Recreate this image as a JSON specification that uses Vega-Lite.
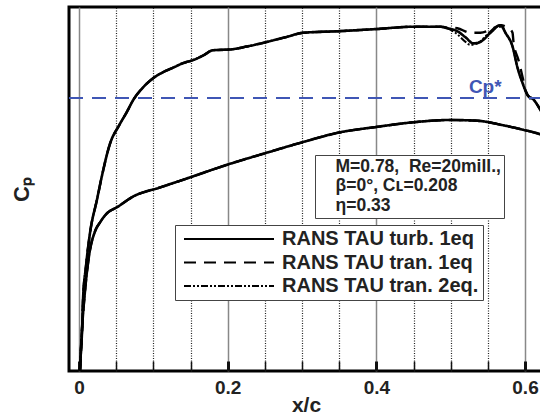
{
  "$schema": "https://vega.github.io/schema/vega-lite/v6.json",
  "width": 474,
  "height": 364,
  "autosize": {"type": "none"},
  "padding": {"left": 69, "top": 7, "right": -3, "bottom": 45},
  "background": "white",
  "config": {"view": {"stroke": "black", "strokeWidth": 3}, "font": "Liberation Sans"},
  "datasets": {
    "turb": [
      {"s":"u","x":0.0013,"cp":1.2},{"s":"u","x":0.0027,"cp":1.06},{"s":"u","x":0.004,"cp":0.95},{"s":"u","x":0.0054,"cp":0.73},{"s":"u","x":0.0094,"cp":0.51},{"s":"u","x":0.0148,"cp":0.29},{"s":"u","x":0.0242,"cp":0.07},{"s":"u","x":0.031,"cp":-0.09},{"s":"u","x":0.0418,"cp":-0.3},{"s":"u","x":0.054,"cp":-0.42},{"s":"u","x":0.0646,"cp":-0.51},{"s":"u","x":0.0727,"cp":-0.585},{"s":"u","x":0.0862,"cp":-0.67},{"s":"u","x":0.0997,"cp":-0.73},{"s":"u","x":0.113,"cp":-0.77},{"s":"u","x":0.1266,"cp":-0.8},{"s":"u","x":0.14,"cp":-0.83},{"s":"u","x":0.1535,"cp":-0.85},{"s":"u","x":0.167,"cp":-0.88},{"s":"u","x":0.1804,"cp":-0.915},{"s":"u","x":0.2034,"cp":-0.92},{"s":"u","x":0.2263,"cp":-0.94},{"s":"u","x":0.2532,"cp":-0.97},{"s":"u","x":0.2774,"cp":-1.0},{"s":"u","x":0.3017,"cp":-1.03},{"s":"u","x":0.3475,"cp":-1.04},{"s":"u","x":0.4013,"cp":-1.055},{"s":"u","x":0.4498,"cp":-1.07},{"s":"u","x":0.486,"cp":-1.07},{"s":"u","x":0.4956,"cp":-1.06},{"s":"u","x":0.5091,"cp":-1.04},{"s":"u","x":0.52,"cp":-1.0},{"s":"u","x":0.5306,"cp":-0.96},{"s":"u","x":0.54,"cp":-0.97},{"s":"u","x":0.5535,"cp":-1.03},{"s":"u","x":0.567,"cp":-1.08},{"s":"u","x":0.5737,"cp":-1.03},{"s":"u","x":0.5832,"cp":-0.94},{"s":"u","x":0.5899,"cp":-0.8},{"s":"u","x":0.5966,"cp":-0.7},{"s":"u","x":0.6034,"cp":-0.62},{"s":"u","x":0.6114,"cp":-0.59},{"s":"u","x":0.6209,"cp":-0.52},{"s":"u","x":0.6316,"cp":-0.42},
      {"s":"l","x":0.0013,"cp":1.2},{"s":"l","x":0.004,"cp":0.93},{"s":"l","x":0.0081,"cp":0.67},{"s":"l","x":0.0135,"cp":0.44},{"s":"l","x":0.0215,"cp":0.28},{"s":"l","x":0.0283,"cp":0.22},{"s":"l","x":0.0377,"cp":0.16},{"s":"l","x":0.0512,"cp":0.12},{"s":"l","x":0.0727,"cp":0.05},{"s":"l","x":0.109,"cp":-0.01},{"s":"l","x":0.1455,"cp":-0.07},{"s":"l","x":0.1993,"cp":-0.16},{"s":"l","x":0.2532,"cp":-0.24},{"s":"l","x":0.3017,"cp":-0.31},{"s":"l","x":0.3475,"cp":-0.37},{"s":"l","x":0.4013,"cp":-0.41},{"s":"l","x":0.4498,"cp":-0.44},{"s":"l","x":0.4997,"cp":-0.455},{"s":"l","x":0.536,"cp":-0.45},{"s":"l","x":0.571,"cp":-0.42},{"s":"l","x":0.598,"cp":-0.39},{"s":"l","x":0.621,"cp":-0.36},{"s":"l","x":0.6316,"cp":-0.34}
    ],
    "tran1": [
      {"s":"u","x":0.0013,"cp":1.2},{"s":"u","x":0.0027,"cp":1.06},{"s":"u","x":0.004,"cp":0.95},{"s":"u","x":0.0054,"cp":0.73},{"s":"u","x":0.0094,"cp":0.51},{"s":"u","x":0.0148,"cp":0.29},{"s":"u","x":0.0242,"cp":0.07},{"s":"u","x":0.031,"cp":-0.09},{"s":"u","x":0.0418,"cp":-0.3},{"s":"u","x":0.054,"cp":-0.42},{"s":"u","x":0.0646,"cp":-0.51},{"s":"u","x":0.0727,"cp":-0.585},{"s":"u","x":0.0862,"cp":-0.67},{"s":"u","x":0.0997,"cp":-0.73},{"s":"u","x":0.113,"cp":-0.77},{"s":"u","x":0.1266,"cp":-0.8},{"s":"u","x":0.14,"cp":-0.83},{"s":"u","x":0.1535,"cp":-0.85},{"s":"u","x":0.167,"cp":-0.88},{"s":"u","x":0.1804,"cp":-0.915},{"s":"u","x":0.2034,"cp":-0.92},{"s":"u","x":0.2263,"cp":-0.94},{"s":"u","x":0.2532,"cp":-0.97},{"s":"u","x":0.2774,"cp":-1.0},{"s":"u","x":0.3017,"cp":-1.03},{"s":"u","x":0.3475,"cp":-1.04},{"s":"u","x":0.4013,"cp":-1.055},{"s":"u","x":0.4498,"cp":-1.07},{"s":"u","x":0.486,"cp":-1.07},{"s":"u","x":0.4956,"cp":-1.065},{"s":"u","x":0.509,"cp":-1.06},{"s":"u","x":0.5266,"cp":-1.03},{"s":"u","x":0.54,"cp":-1.03},{"s":"u","x":0.5535,"cp":-1.05},{"s":"u","x":0.567,"cp":-1.08},{"s":"u","x":0.5778,"cp":-1.06},{"s":"u","x":0.5832,"cp":-1.03},{"s":"u","x":0.5845,"cp":-0.97},{"s":"u","x":0.5912,"cp":-0.85},{"s":"u","x":0.5966,"cp":-0.74},{"s":"u","x":0.6007,"cp":-0.65},{"s":"u","x":0.6074,"cp":-0.595},{"s":"u","x":0.6114,"cp":-0.585},{"s":"u","x":0.6209,"cp":-0.52},{"s":"u","x":0.6316,"cp":-0.42},
      {"s":"l","x":0.0013,"cp":1.2},{"s":"l","x":0.004,"cp":0.93},{"s":"l","x":0.0081,"cp":0.67},{"s":"l","x":0.0135,"cp":0.44},{"s":"l","x":0.0215,"cp":0.28},{"s":"l","x":0.0283,"cp":0.22},{"s":"l","x":0.0377,"cp":0.16},{"s":"l","x":0.0512,"cp":0.12},{"s":"l","x":0.0727,"cp":0.05},{"s":"l","x":0.109,"cp":-0.01},{"s":"l","x":0.1455,"cp":-0.07},{"s":"l","x":0.1993,"cp":-0.16},{"s":"l","x":0.2532,"cp":-0.24},{"s":"l","x":0.3017,"cp":-0.31},{"s":"l","x":0.3475,"cp":-0.37},{"s":"l","x":0.4013,"cp":-0.41},{"s":"l","x":0.4498,"cp":-0.44},{"s":"l","x":0.4997,"cp":-0.455},{"s":"l","x":0.536,"cp":-0.45},{"s":"l","x":0.571,"cp":-0.42},{"s":"l","x":0.598,"cp":-0.39},{"s":"l","x":0.621,"cp":-0.36},{"s":"l","x":0.6316,"cp":-0.34}
    ],
    "tran2": [
      {"s":"u","x":0.0013,"cp":1.2},{"s":"u","x":0.0027,"cp":1.06},{"s":"u","x":0.004,"cp":0.95},{"s":"u","x":0.0054,"cp":0.73},{"s":"u","x":0.0094,"cp":0.51},{"s":"u","x":0.0148,"cp":0.29},{"s":"u","x":0.0242,"cp":0.07},{"s":"u","x":0.031,"cp":-0.09},{"s":"u","x":0.0418,"cp":-0.3},{"s":"u","x":0.054,"cp":-0.42},{"s":"u","x":0.0646,"cp":-0.51},{"s":"u","x":0.0727,"cp":-0.585},{"s":"u","x":0.0862,"cp":-0.67},{"s":"u","x":0.0997,"cp":-0.73},{"s":"u","x":0.113,"cp":-0.77},{"s":"u","x":0.1266,"cp":-0.8},{"s":"u","x":0.14,"cp":-0.83},{"s":"u","x":0.1535,"cp":-0.85},{"s":"u","x":0.167,"cp":-0.88},{"s":"u","x":0.1804,"cp":-0.915},{"s":"u","x":0.2034,"cp":-0.92},{"s":"u","x":0.2263,"cp":-0.94},{"s":"u","x":0.2532,"cp":-0.97},{"s":"u","x":0.2774,"cp":-1.0},{"s":"u","x":0.3017,"cp":-1.03},{"s":"u","x":0.3475,"cp":-1.04},{"s":"u","x":0.4013,"cp":-1.055},{"s":"u","x":0.4498,"cp":-1.07},{"s":"u","x":0.486,"cp":-1.07},{"s":"u","x":0.4956,"cp":-1.06},{"s":"u","x":0.509,"cp":-1.02},{"s":"u","x":0.52,"cp":-0.97},{"s":"u","x":0.5266,"cp":-0.95},{"s":"u","x":0.536,"cp":-0.96},{"s":"u","x":0.5495,"cp":-1.02},{"s":"u","x":0.563,"cp":-1.07},{"s":"u","x":0.5697,"cp":-1.07},{"s":"u","x":0.5737,"cp":-1.03},{"s":"u","x":0.5832,"cp":-0.94},{"s":"u","x":0.5899,"cp":-0.8},{"s":"u","x":0.5966,"cp":-0.7},{"s":"u","x":0.6034,"cp":-0.62},{"s":"u","x":0.6114,"cp":-0.59},{"s":"u","x":0.6209,"cp":-0.52},{"s":"u","x":0.6316,"cp":-0.42},
      {"s":"l","x":0.0013,"cp":1.2},{"s":"l","x":0.004,"cp":0.93},{"s":"l","x":0.0081,"cp":0.67},{"s":"l","x":0.0135,"cp":0.44},{"s":"l","x":0.0215,"cp":0.28},{"s":"l","x":0.0283,"cp":0.22},{"s":"l","x":0.0377,"cp":0.16},{"s":"l","x":0.0512,"cp":0.12},{"s":"l","x":0.0727,"cp":0.05},{"s":"l","x":0.109,"cp":-0.01},{"s":"l","x":0.1455,"cp":-0.07},{"s":"l","x":0.1993,"cp":-0.16},{"s":"l","x":0.2532,"cp":-0.24},{"s":"l","x":0.3017,"cp":-0.31},{"s":"l","x":0.3475,"cp":-0.37},{"s":"l","x":0.4013,"cp":-0.41},{"s":"l","x":0.4498,"cp":-0.44},{"s":"l","x":0.4997,"cp":-0.455},{"s":"l","x":0.536,"cp":-0.45},{"s":"l","x":0.571,"cp":-0.42},{"s":"l","x":0.598,"cp":-0.39},{"s":"l","x":0.621,"cp":-0.36},{"s":"l","x":0.6316,"cp":-0.34}
    ]
  },
  "layer": [
    {
      "data": {"name": "tran1"},
      "mark": {"type": "line", "color": "black", "strokeWidth": 2.4, "clip": true, "interpolate": "monotone"},
      "encoding": {
        "x": {"field": "x", "type": "quantitative", "scale": {"domain": [-0.01345, 0.6242], "nice": false, "zero": false},
          "axis": {
            "tickCount": 13,
            "title": "x/c", "titleFont": "Liberation Sans", "titleFontSize": 21, "titleFontWeight": "bold", "titleColor": "#222",
            "titleBaseline": "alphabetic", "titleY": 40.5,
            "labelFont": "Liberation Sans", "labelFontSize": 19, "labelFontWeight": "bold", "labelColor": "#222", "labelPadding": 17,
            "labelExpr": "abs(datum.value*5 - round(datum.value*5)) < 0.000001 ? format(datum.value, '.1~f') : ''",
            "labelFlush": false, "labelOverlap": false, "domain": false, "grid": true,
            "gridColor": {"condition": {"test": "abs(datum.value*5 - round(datum.value*5)) < 0.000001", "value": "#888"}, "value": "#222"},
            "gridDash": {"condition": {"test": "abs(datum.value*5 - round(datum.value*5)) < 0.000001", "value": []}, "value": [1, 1.5]},
            "gridWidth": {"condition": {"test": "abs(datum.value*5 - round(datum.value*5)) < 0.000001", "value": 1.5}, "value": 1.2},
            "ticks": true, "tickSize": -10,
            "tickWidth": {"condition": {"test": "abs(datum.value*5 - round(datum.value*5)) < 0.000001", "value": 3}, "value": 1.5},
            "tickColor": "#111"
          }},
        "y": {"field": "cp", "type": "quantitative", "scale": {"domain": [-1.2, 1.2], "reverse": true, "nice": false, "zero": false},
          "axis": {"title": "Cₚ", "titleFont": "Liberation Sans", "titleFontSize": 22, "titleFontWeight": "bold", "titleColor": "#222", "titlePadding": 36, "labels": false, "ticks": false, "domain": false, "grid": false}},
        "detail": {"field": "s"},
        "strokeDash": {"datum": "RANS TAU tran. 1eq",
          "scale": {"domain": ["RANS TAU turb. 1eq", "RANS TAU tran. 1eq", "RANS TAU tran. 2eq."], "range": [[1, 0], [12, 8], [7, 2, 2, 2, 2, 2]]},
          "legend": {"orient": "none", "legendX": 106, "legendY": 218, "title": null, "symbolType": "M-1,0H17", "symbolSize": 100, "symbolStrokeWidth": 2.2, "symbolStrokeColor": "black", "symbolFillColor": "transparent",
            "labelFont": "Liberation Sans", "labelFontSize": 20, "labelFontWeight": "bold", "labelColor": "#222", "labelOffset": 83, "labelLimit": 400, "rowPadding": 3.5, "padding": 4, "strokeColor": "#444", "fillColor": "white"}}
      }
    },
    {
      "data": {"name": "tran2"},
      "mark": {"type": "line", "color": "black", "strokeWidth": 2, "clip": true, "interpolate": "monotone"},
      "encoding": {
        "x": {"field": "x", "type": "quantitative"},
        "y": {"field": "cp", "type": "quantitative"},
        "detail": {"field": "s"},
        "strokeDash": {"datum": "RANS TAU tran. 2eq."}
      }
    },
    {
      "data": {"name": "turb"},
      "mark": {"type": "line", "color": "black", "strokeWidth": 2.6, "clip": true, "interpolate": "monotone"},
      "encoding": {
        "x": {"field": "x", "type": "quantitative"},
        "y": {"field": "cp", "type": "quantitative"},
        "detail": {"field": "s"},
        "strokeDash": {"datum": "RANS TAU turb. 1eq"}
      }
    },
    {
      "data": {"values": [{"cpstar": -0.6, "label": "Cp*"}]},
      "mark": {"type": "rule", "color": "#3f56b5", "strokeWidth": 2, "strokeDash": [14, 9]},
      "encoding": {
        "y": {"field": "cpstar", "type": "quantitative"}
      }
    },
    {
      "data": {"values": [{"cpstar": -0.6, "label": "Cp*"}]},
      "mark": {"type": "text", "color": "#3f56b5", "fontSize": 19, "fontWeight": "bold", "font": "Liberation Sans", "align": "center", "baseline": "alphabetic", "dy": -5},
      "encoding": {
        "x": {"datum": 0.5465, "type": "quantitative"},
        "y": {"field": "cpstar", "type": "quantitative"},
        "text": {"field": "label"}
      }
    },
    {
      "data": {"values": [{"info": "M=0.78,  Re=20mill.,"}, {"info": "β=0°, Cʟ=0.208"}, {"info": "η=0.33"}]},
      "mark": {"type": "point", "opacity": 0},
      "encoding": {
        "shape": {"field": "info", "type": "nominal",
          "scale": {"domain": ["M=0.78,  Re=20mill.,", "β=0°, Cʟ=0.208", "η=0.33"]},
          "legend": {"orient": "none", "legendX": 246, "legendY": 148, "title": null, "symbolSize": 0, "symbolOpacity": 0,
            "labelExpr": "replace(datum.label, '  ', '\u00a0 ')",
            "labelFont": "Liberation Sans", "labelFontSize": 17.5, "labelFontWeight": "bold", "labelColor": "#222", "labelOffset": 0, "labelLimit": 400, "rowPadding": 0.5, "padding": 3, "strokeColor": "#444", "fillColor": "white"}}
      }
    }
  ]
}
